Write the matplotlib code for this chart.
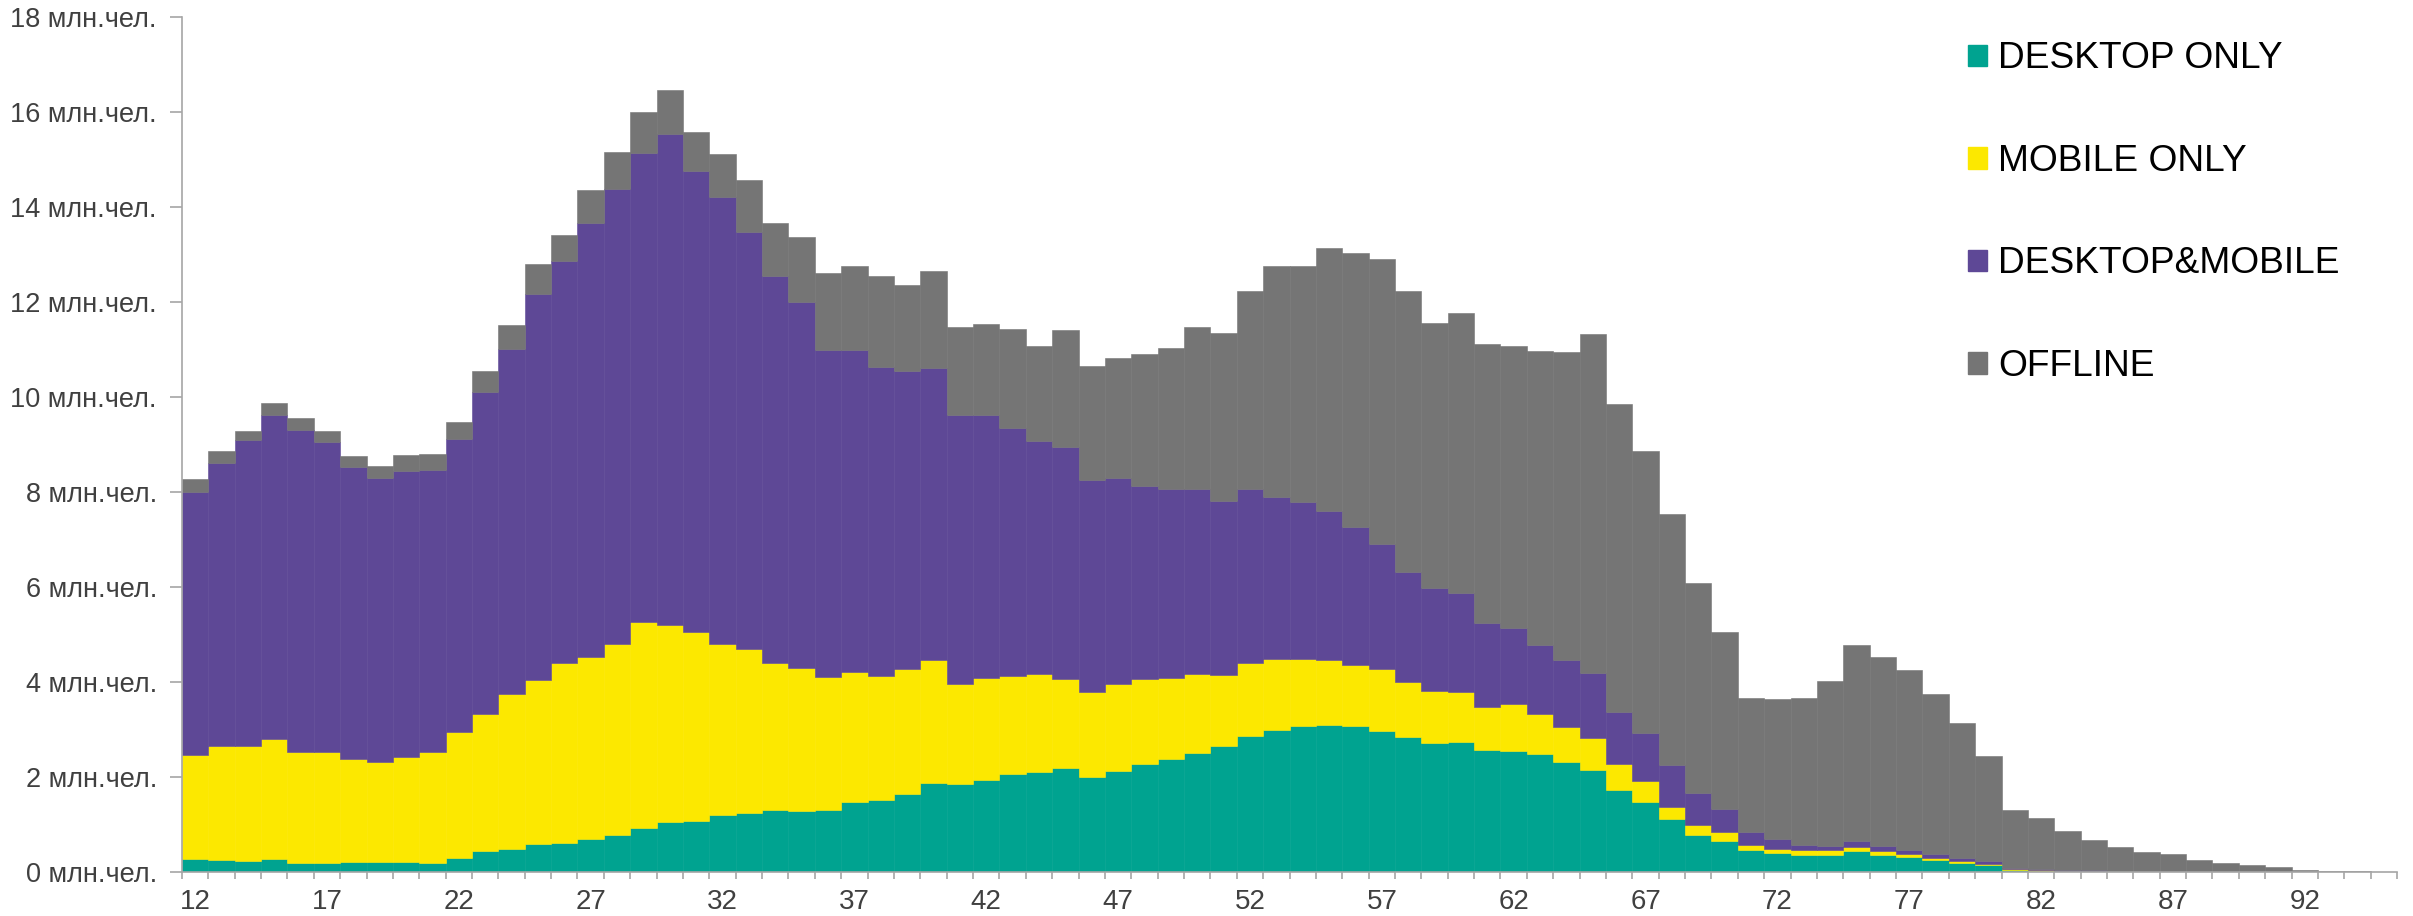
import numpy as np
import matplotlib
matplotlib.use("Agg")
import matplotlib.pyplot as plt
from matplotlib.patches import Patch

plt.rcParams['font.family'] = ['Liberation Sans', 'DejaVu Sans']

ages = list(range(12, 96))

desktop_only = [0.28, 0.26, 0.23, 0.28, 0.20, 0.20, 0.22, 0.21, 0.22, 0.20,
                0.30, 0.45, 0.49, 0.60, 0.62, 0.70, 0.78, 0.93, 1.05, 1.08,
                1.21, 1.25, 1.31, 1.30, 1.31, 1.47, 1.53, 1.65, 1.88, 1.86,
                1.94, 2.07, 2.11, 2.19, 2.01, 2.13, 2.29, 2.39, 2.51, 2.66,
                2.88, 3.00, 3.09, 3.10, 3.09, 2.98, 2.85, 2.72, 2.75, 2.58,
                2.55, 2.50, 2.32, 2.15, 1.73, 1.47, 1.12, 0.78, 0.65, 0.46,
                0.40, 0.37, 0.37, 0.44, 0.37, 0.32, 0.26, 0.20, 0.15, 0.05,
                0.035, 0.03, 0.025, 0.02, 0.01, 0.005, 0, 0, 0, 0,
                0, 0, 0, 0]

mobile_only = [2.20, 2.39, 2.43, 2.52, 2.33, 2.34, 2.16, 2.11, 2.20, 2.34,
               2.65, 2.88, 3.26, 3.45, 3.79, 3.83, 4.03, 4.33, 4.15, 3.97,
               3.60, 3.46, 3.10, 3.01, 2.80, 2.75, 2.60, 2.62, 2.60, 2.10,
               2.15, 2.07, 2.07, 1.89, 1.79, 1.83, 1.78, 1.70, 1.66, 1.49,
               1.53, 1.49, 1.41, 1.38, 1.27, 1.31, 1.15, 1.10, 1.05, 0.91,
               0.99, 0.83, 0.74, 0.67, 0.54, 0.46, 0.26, 0.21, 0.20, 0.12,
               0.10, 0.09, 0.09, 0.09, 0.08, 0.07, 0.05, 0.04, 0.03, 0.01,
               0.005, 0.005, 0.005, 0.005, 0.002, 0.001, 0, 0, 0, 0,
               0, 0, 0, 0]

desktop_mobile = [5.53, 5.96, 6.44, 6.83, 6.78, 6.51, 6.15, 5.99, 6.02, 5.92,
                  6.18, 6.79, 7.26, 8.12, 8.45, 9.15, 9.58, 9.88, 10.35, 9.72,
                  9.41, 8.78, 8.14, 7.70, 6.89, 6.78, 6.50, 6.28, 6.13, 5.66,
                  5.54, 5.21, 4.89, 4.87, 4.45, 4.34, 4.06, 3.97, 3.89, 3.66,
                  3.67, 3.42, 3.29, 3.12, 2.90, 2.62, 2.33, 2.16, 2.07, 1.75,
                  1.60, 1.45, 1.41, 1.38, 1.10, 1.00, 0.88, 0.69, 0.49, 0.26,
                  0.21, 0.12, 0.10, 0.12, 0.10, 0.09, 0.07, 0.07, 0.05, 0.03,
                  0.03, 0.01, 0.01, 0.005, 0.003, 0.002, 0, 0, 0, 0,
                  0, 0, 0, 0]

offline = [0.26, 0.25, 0.19, 0.25, 0.26, 0.24, 0.24, 0.24, 0.35, 0.34,
           0.34, 0.43, 0.51, 0.64, 0.56, 0.68, 0.77, 0.86, 0.92, 0.81,
           0.90, 1.08, 1.13, 1.36, 1.61, 1.76, 1.92, 1.82, 2.04, 1.87,
           1.91, 2.09, 2.02, 2.46, 2.41, 2.52, 2.79, 2.97, 3.41, 3.54,
           4.16, 4.86, 4.97, 5.54, 5.77, 6.00, 5.90, 5.59, 5.90, 5.88,
           5.95, 6.20, 6.48, 7.13, 6.48, 5.93, 5.29, 4.42, 3.71, 2.84,
           2.93, 3.09, 3.47, 4.14, 3.98, 3.77, 3.37, 2.83, 2.21, 1.23,
           1.07, 0.82, 0.64, 0.50, 0.42, 0.37, 0.26, 0.20, 0.15, 0.11,
           0.05, 0.03, 0.02, 0.01]

series_names = ["DESKTOP ONLY", "MOBILE ONLY", "DESKTOP&MOBILE", "OFFLINE"]
series_colors = ["#00A390", "#FCE800", "#5E4896", "#757575"]
x_tick_labels = [str(a) for a in range(12, 96, 5)]
y_tick_values = list(range(0, 19, 2))

fig = plt.figure(figsize=(24.13, 9.16), dpi=100)
ax = fig.add_axes([0.0754, 0.0477, 0.9180, 0.9334])

bottom = np.zeros(len(ages))
for vals, name, col in zip([desktop_only, mobile_only, desktop_mobile, offline],
                           series_names, series_colors):
    v = np.array(vals, dtype=float)
    ax.bar(ages, v, width=1.0, bottom=bottom, color=col, edgecolor=col,
           linewidth=0.4, label=name)
    bottom = bottom + v

ax.set_xlim(11.5, 95.5)
ax.set_ylim(0, 18)

ax.set_yticks(y_tick_values)
ax.set_yticklabels([f"{v} млн.чел." for v in y_tick_values])
ax.set_xticks(list(range(12, 96, 5)))
ax.set_xticklabels(x_tick_labels)
ax.set_xticks(np.arange(11.5, 96.0, 1.0), minor=True)

for s in ["top", "right"]:
    ax.spines[s].set_visible(False)
for s in ["left", "bottom"]:
    ax.spines[s].set_color("#A6A6A6")
    ax.spines[s].set_linewidth(1.2)

ax.tick_params(axis="y", which="major", length=8.5, width=1.2, color="#A6A6A6",
               labelsize=19.5, labelcolor="#404040", pad=9.5)
ax.tick_params(axis="x", which="major", length=0, labelsize=20,
               labelcolor="#404040", pad=12)
ax.tick_params(axis="x", which="minor", length=5.3, width=1.2, color="#A6A6A6")

handles = [Patch(facecolor=c, edgecolor=c) for c in series_colors]
leg = ax.legend(handles, series_names, loc="upper left",
                bbox_to_anchor=(0.8156, 0.9547), bbox_transform=fig.transFigure,
                frameon=False, fontsize=26.7, borderpad=0, borderaxespad=0,
                handlelength=0.52, handleheight=0.52, handletextpad=0.3,
                labelspacing=1.82)

fig.savefig("out.png", dpi=100)
